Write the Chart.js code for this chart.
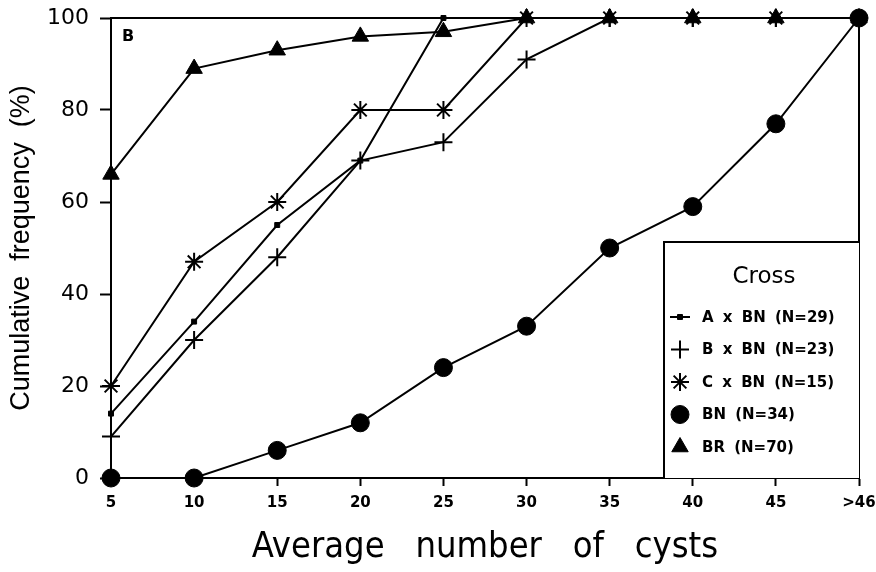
<!DOCTYPE html>
<html>
<head>
<meta charset="utf-8">
<script src="https://cdn.jsdelivr.net/npm/chart.js@4.4.1/dist/chart.umd.min.js"></script>
<style>
  body { margin: 0; background: #fff; }
  #wrap { width: 876px; height: 572px; position: relative; }
</style>
</head>
<body>
<div id="wrap"><canvas id="cystChart"></canvas></div>
<script>
// categories on the x axis (average number of cysts)
const categories = ['5', '10', '15', '20', '25', '30', '35', '40', '45', '>46'];

// cumulative frequency (%) for each cross
const axbn = [14, 34, 55, 69, 100, 100, 100, 100, 100, 100];
const bxbn = [9, 30, 48, 69, 73, 91, 100, 100, 100, 100];
const cxbn = [20, 47, 60, 80, 80, 100, 100, 100, 100, 100];
const bn   = [0, 0, 6, 12, 24, 33, 50, 59, 77, 100];
const br   = [66, 89, 93, 96, 97, 100, 100, 100, 100, 100];

const seriesLabels = ['A x BN (N=29)', 'B x BN (N=23)', 'C x BN (N=15)', 'BN (N=34)', 'BR (N=70)'];
const yMin = 0, yMax = 100, yStep = 20;

const black = '#000';

function series(label, data, style, radius, bw) {
    return {
        label: label,
        data: data,
        borderColor: black,
        borderWidth: 2,
        pointStyle: style,
        pointRadius: radius,
        pointBackgroundColor: black,
        pointBorderColor: black,
        pointBorderWidth: bw,
        tension: 0,
        clip: false
    };
}

// frame lines, panel letter and the boxed legend
const framePlugin = {
    id: 'frame',
    afterDraw(chart) {
        const { ctx, chartArea: a } = chart;
        ctx.save();
        ctx.strokeStyle = black;
        ctx.lineWidth = 2;
        ctx.beginPath();
        ctx.moveTo(a.left, a.top);
        ctx.lineTo(a.right, a.top);
        ctx.lineTo(a.right, a.bottom);
        ctx.stroke();

        ctx.fillStyle = black;
        ctx.font = 'bold 16px "DejaVu Sans"';
        ctx.textBaseline = 'middle';
        ctx.textAlign = 'left';
        ctx.fillText('B', a.left + 11, a.top + 19);

        // legend box
        const bx = a.right - 195, by = a.bottom - 236;
        ctx.fillStyle = '#fff';
        ctx.fillRect(bx, by, a.right - bx, a.bottom - by);
        ctx.beginPath();
        ctx.moveTo(bx, a.bottom);
        ctx.lineTo(bx, by);
        ctx.lineTo(a.right, by);
        ctx.stroke();

        ctx.fillStyle = black;
        ctx.textAlign = 'center';
        ctx.font = '23px "DejaVu Sans"';
        ctx.fillText('Cross', bx + 100, by + 35);

        ctx.textAlign = 'left';
        ctx.font = 'bold 15px "DejaVu Sans"';
        ctx.wordSpacing = '4px';
        chart.data.datasets.forEach((ds, i) => {
            const y = by + 75 + i * 32.5;
            const mx = bx + 16;
            ctx.strokeStyle = black;
            ctx.fillStyle = black;
            if (i === 0) {
                ctx.lineWidth = 2;
                ctx.beginPath();
                ctx.moveTo(mx - 10, y);
                ctx.lineTo(mx + 10, y);
                ctx.stroke();
            }
            ctx.lineWidth = ds.pointBorderWidth;
            Chart.helpers.drawPoint(ctx, {
                pointStyle: ds.pointStyle,
                radius: ds.pointRadius,
                borderWidth: ds.pointBorderWidth,
                rotation: 0
            }, mx, y);
            ctx.fillText(ds.label, bx + 38, y + 1);
        });
        ctx.restore();
    }
};

new Chart(document.getElementById('cystChart'), {
    type: 'line',
    data: {
        labels: categories,
        datasets: [
            series(seriesLabels[0], axbn, 'rect', 3.5, 1),
            series(seriesLabels[1], bxbn, 'cross', 9, 2),
            series(seriesLabels[2], cxbn, 'star', 9, 2),
            series(seriesLabels[3], bn, 'circle', 9, 1),
            series(seriesLabels[4], br, 'triangle', 9.5, 1)
        ]
    },
    options: {
        responsive: true,
        maintainAspectRatio: false,
        animation: false,
        layout: { padding: { left: 0, right: 17, top: 18, bottom: 0 } },
        plugins: { legend: { display: false }, tooltip: { enabled: false } },
        scales: {
            x: {
                offset: false,
                grid: { drawOnChartArea: false, tickLength: 8, tickColor: black, tickWidth: 2 },
                border: { color: black, width: 2 },
                ticks: { color: black, padding: 8, maxRotation: 0, font: { family: 'DejaVu Sans', weight: 'bold', size: 15 } },
                title: {
                    display: true,
                    text: 'Average   number   of   cysts',
                    color: black,
                    padding: { top: 0, bottom: 3 },
                    font: { family: '"Liberation Sans Narrow", "DejaVu Sans Condensed", sans-serif', size: 36 }
                },
                afterFit(s) { s.height = 94; s.paddingLeft = 0; s.paddingRight = 0; }
            },
            y: {
                min: yMin,
                max: yMax,
                grid: { drawOnChartArea: false, tickLength: 11, tickColor: black, tickWidth: 2 },
                border: { color: black, width: 2 },
                ticks: { stepSize: yStep, color: black, padding: 11, font: { family: 'DejaVu Sans', size: 22 } },
                title: {
                    display: true,
                    text: 'Cumulative  frequency  (%)',
                    color: black,
                    padding: { top: 5, bottom: 0 },
                    font: { family: 'Liberation Sans', size: 27 }
                },
                afterFit(s) { s.width = 111; s.paddingTop = 0; s.paddingBottom = 0; }
            }
        }
    },
    plugins: [framePlugin]
});
</script>
</body>
</html>
